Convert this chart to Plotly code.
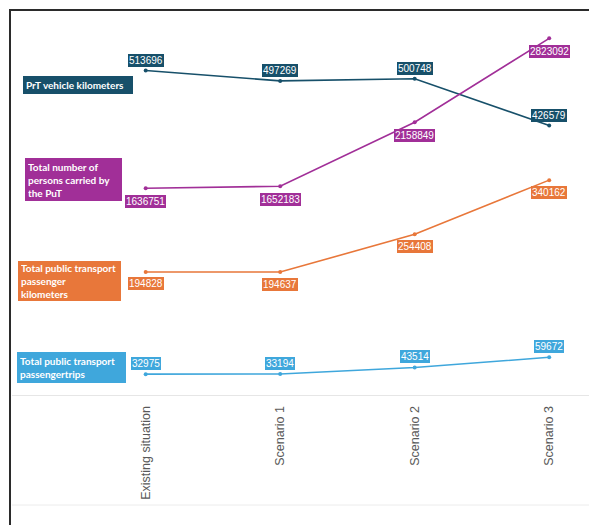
import plotly.graph_objects as go

scenarios = ['Existing situation', 'Scenario 1', 'Scenario 2', 'Scenario 3']

prt_vehicle_km = [513696, 497269, 500748, 426579]
put_persons = [1636751, 1652183, 2158849, 2823092]
put_passenger_km = [194828, 194637, 254408, 340162]
put_passenger_trips = [32975, 33194, 43514, 59672]

series_names = [
    'PrT vehicle kilometers',
    'Total number of<br>persons carried by<br>the PuT',
    'Total public transport<br>passenger<br>kilometers',
    'Total public transport<br>passengertrips',
]

DARK = '#17506a'
MAGENTA = '#a12f98'
ORANGE = '#e8773a'
BLUE = '#3fa7dc'

# plot area in pixels, used to place the free-floating boxes
LEFT, TOP, BOTTOM, WIDTH = 12, 16, 395, 577


def px_x(x):
    return (x - LEFT) / WIDTH


def px_y(y):
    return (BOTTOM - y) / (BOTTOM - TOP)


def create_line(values, color, name, axis):
    return go.Scatter(
        x=scenarios,
        y=values,
        mode='lines+markers',
        line=dict(color=color, width=1.6),
        marker=dict(color=color, size=4),
        name=name,
        yaxis=axis,
        showlegend=False,
    )


def value_labels(values, color, axis, shift):
    labels = []
    for cat, v in zip(scenarios, values):
        labels.append(dict(
            x=cat, y=v, xref='x', yref=axis,
            text=str(v), showarrow=False, yshift=shift,
            bgcolor=color, borderpad=1, borderwidth=0,
            font=dict(family='Arial', size=10, color='white'),
        ))
    return labels


def name_box(text, color, x0, y0, w, h):
    return dict(
        x=px_x(x0), y=px_y(y0), xref='paper', yref='paper',
        xanchor='left', yanchor='top',
        text='<b>' + text + '</b>', showarrow=False,
        align='left', width=w - 6, height=h - 6,
        bgcolor=color, borderpad=3, borderwidth=0,
        font=dict(family='Lato', size=10, color='white'),
    )


def plot():
    fig = go.Figure()

    fig.add_trace(create_line(prt_vehicle_km, DARK, series_names[0], 'y'))
    fig.add_trace(create_line(put_persons, MAGENTA, series_names[1], 'y2'))
    fig.add_trace(create_line(put_passenger_km, ORANGE, series_names[2], 'y'))
    fig.add_trace(create_line(put_passenger_trips, BLUE, series_names[3], 'y'))

    annotations = []
    annotations += value_labels(prt_vehicle_km, DARK, 'y', 10)
    annotations += value_labels(put_persons, MAGENTA, 'y2', -13)
    annotations += value_labels(put_passenger_km, ORANGE, 'y', -12)
    annotations += value_labels(put_passenger_trips, BLUE, 'y', 11)

    annotations.append(name_box(series_names[0], DARK, 23, 76, 110, 18))
    annotations.append(name_box(series_names[1], MAGENTA, 25, 158, 97, 43))
    annotations.append(name_box(series_names[2], ORANGE, 18, 261, 103, 40))
    annotations.append(name_box(series_names[3], BLUE, 17, 352, 109, 31))

    frame = dict(color='#2b2b2b', width=2)

    fig.update_layout(
        width=589,
        height=525,
        margin=dict(l=LEFT, r=0, t=TOP, b=525 - BOTTOM),
        paper_bgcolor='white',
        plot_bgcolor='white',
        xaxis=dict(
            type='category',
            range=[-0.994, 3.296],
            tickangle=-90,
            tickfont=dict(family='Arial', size=12.5, color='#595959'),
            ticklabelstandoff=5,
            showgrid=False,
            showline=True,
            linecolor='#e6e6e6',
            linewidth=1,
            ticks='',
        ),
        yaxis=dict(range=[0, 600000], visible=False),
        yaxis2=dict(range=[0, 3000000], visible=False, overlaying='y'),
        annotations=annotations,
        shapes=[
            dict(type='line', xref='paper', yref='paper',
                 x0=0, x1=1, y0=px_y(505), y1=px_y(505),
                 line=dict(color='#ececec', width=1)),
            # outer frame, cropped at right and bottom like the source
            dict(type='line', xref='paper', yref='paper',
                 x0=px_x(9), x1=1, y0=px_y(10), y1=px_y(10), line=frame),
            dict(type='line', xref='paper', yref='paper',
                 x0=px_x(10), x1=px_x(10), y0=px_y(525), y1=px_y(9),
                 line=frame),
        ],
    )

    # drop the default 8px page margin and any scrollbars
    fig.write_html(
        'out.html',
        config={'displayModeBar': False},
        post_script=(
            "document.body.style.margin='0';"
            "document.documentElement.style.overflow='hidden';"
        ),
    )


if __name__ == "__main__":
    plot()
